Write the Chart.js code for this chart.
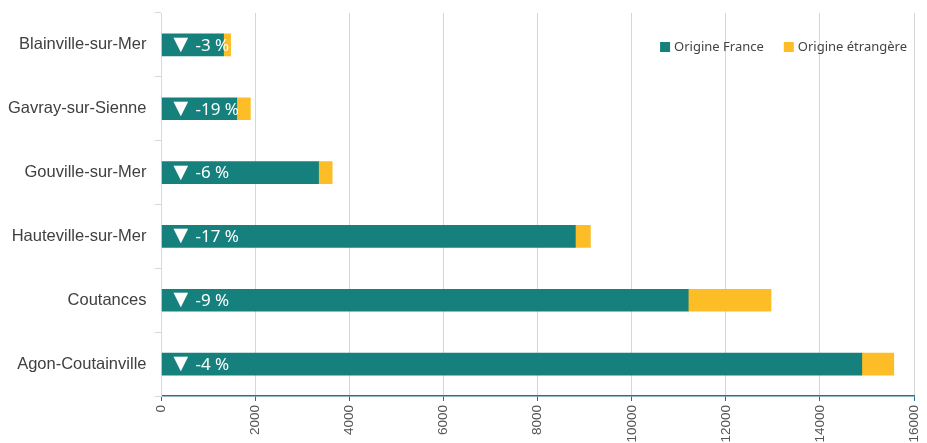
<!DOCTYPE html>
<html>
<head>
<meta charset="utf-8">
<script src="https://cdn.jsdelivr.net/npm/chart.js@4.4.1/dist/chart.umd.min.js"></script>
<style>
  html, body { margin: 0; padding: 0; background: #fff; }
  #wrap { width: 927px; height: 443px; }
</style>
</head>
<body>
<div id="wrap"><canvas id="canvas" width="927" height="443"></canvas></div>
<script>
var communes = ['Blainville-sur-Mer', 'Gavray-sur-Sienne', 'Gouville-sur-Mer', 'Hauteville-sur-Mer', 'Coutances', 'Agon-Coutainville'];
var origineFrance = [1320, 1600, 3340, 8800, 11200, 14890];
var origineEtrangere = [150, 290, 290, 320, 1760, 680];
var evolution = [-3, -19, -6, -17, -9, -4];

var teal = '#15807c';
var yellow = '#fdbd27';

// writes the "▼ -x %" label inside each bar
var barLabels = {
    id: 'barLabels',
    afterDatasetsDraw: function(chart) {
        var c = chart.ctx;
        var x0 = chart.scales.x.getPixelForValue(0);
        c.save();
        c.fillStyle = '#ffffff';
        c.textBaseline = 'middle';
        for (var i = 0; i < communes.length; i++) {
            var y = chart.scales.y.getPixelForValue(i);
            c.font = '19px "DejaVu Sans"';
            c.fillText('\u25BC', x0 + 12, y);
            c.font = '17px "Noto Sans"';
            c.fillText(evolution[i] + ' %', x0 + 34, y + 1);
        }
        c.restore();
    }
};

// legend drawn top right inside the plot
var cornerLegend = {
    id: 'cornerLegend',
    afterDraw: function(chart) {
        var c = chart.ctx;
        var area = chart.chartArea;
        var y = area.top + 34;
        c.save();
        c.font = '13px "Noto Sans"';
        c.textBaseline = 'middle';
        var x = area.right - 7;
        var sets = chart.data.datasets.slice().reverse();
        sets.forEach(function(ds) {
            var w = c.measureText(ds.label).width;
            x -= w;
            c.fillStyle = '#444';
            c.fillText(ds.label, x, y);
            x -= 14;
            c.fillStyle = ds.backgroundColor;
            c.fillRect(x, y - 5, 10, 10);
            x -= 20;
        });
        c.restore();
    }
};

var ctx = document.getElementById('canvas').getContext('2d');
var myChart = new Chart(ctx, {
    type: 'bar',
    data: {
        labels: communes,
        datasets: [{
            label: 'Origine France',
            data: origineFrance,
            backgroundColor: teal,
            barThickness: 22
        },
        {
            label: 'Origine étrangère',
            data: origineEtrangere,
            backgroundColor: yellow,
            barThickness: 22
        }]
    },
    plugins: [barLabels, cornerLegend],
    options: {
        indexAxis: 'y',
        responsive: false,
        animation: false,
        layout: {
            padding: { top: 13, right: 13, left: 0, bottom: 0 }
        },
        plugins: {
            tooltip: { enabled: false },
            legend: { display: false }
        },
        scales: {
            x: {
                stacked: true,
                min: 0,
                max: 16000,
                afterFit: function(scale) {
                    scale.height = 47;
                    scale.paddingLeft = 0;
                    scale.paddingRight = 0;
                },
                ticks: {
                    stepSize: 2000,
                    minRotation: 90,
                    maxRotation: 90,
                    color: '#555',
                    padding: 4,
                    font: { family: '"Liberation Sans"', size: 13.5 },
                    callback: function(v) { return String(v); }
                },
                grid: {
                    color: '#d6d6d6',
                    tickColor: '#2b6f93',
                    tickLength: 5
                },
                border: { color: '#2b6f93', width: 1.5 }
            },
            y: {
                stacked: true,
                afterFit: function(scale) {
                    scale.paddingTop = 0;
                    scale.paddingBottom = 0;
                },
                ticks: {
                    color: '#404040',
                    padding: 8,
                    font: { family: '"Liberation Sans"', size: 16.5 }
                },
                grid: {
                    offset: true,
                    drawOnChartArea: false,
                    tickLength: 7,
                    tickColor: '#d9d9d9'
                },
                border: { color: '#d9d9d9' }
            }
        }
    }
});
</script>
</body>
</html>
